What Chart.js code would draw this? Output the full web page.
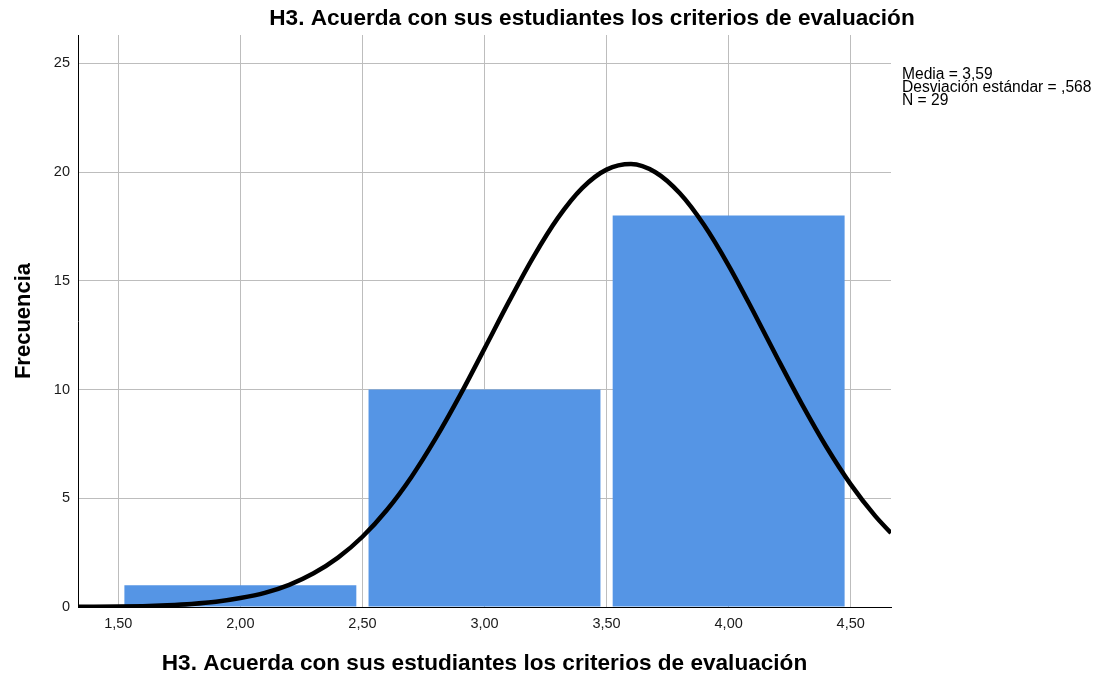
<!DOCTYPE html>
<html lang="es">
<head>
    <meta charset="UTF-8">
    <title>H3 histograma</title>
    <script src="https://cdn.jsdelivr.net/npm/chart.js"></script>
    <style>
        html, body { margin: 0; padding: 0; background: #ffffff; }
        #wrap { width: 1098px; height: 679px; }
    </style>
</head>
<body>
    <div id="wrap"><canvas id="histo"></canvas></div>

    <script>
        // Histograma: centros de intervalo y frecuencias
        const binCenters = [2, 3, 4];
        const frequencies = [1, 10, 18];

        // Marcas de los ejes
        const xTicks = [1.5, 2, 2.5, 3, 3.5, 4, 4.5];
        const yTicks = [0, 5, 10, 15, 20, 25];

        // Curva normal
        const curveX = [1.335, 1.4, 1.5, 1.6, 1.7, 1.8, 1.9, 2.0, 2.1, 2.2, 2.3, 2.4, 2.5, 2.6, 2.7, 2.8, 2.9,
                        3.0, 3.1, 3.2, 3.3, 3.4, 3.5, 3.6, 3.7, 3.8, 3.9, 4.0, 4.1, 4.2, 4.3, 4.4, 4.5, 4.6, 4.665];
        const curveY = [0.01, 0.01, 0.02, 0.04, 0.08, 0.14, 0.24, 0.41, 0.65, 1.02, 1.55, 2.27, 3.23, 4.46, 5.97, 7.75, 9.74,
                        11.88, 14.04, 16.09, 17.88, 19.26, 20.11, 20.37, 19.99, 19.02, 17.55, 15.70, 13.61, 11.44, 9.33, 7.37, 5.64, 4.19, 3.40];

        const chartTitle = "H3. Acuerda con sus estudiantes los criterios de evaluación";
        const statsLines = ["Media = 3,59", "Desviación estándar = ,568", "N = 29"];

        const fontFam = "'Liberation Sans', Arial, sans-serif";

        // título y estadísticos dibujados a mano
        const textPlugin = {
            id: "textos",
            afterDraw(chart) {
                const ctx = chart.ctx;
                ctx.save();
                ctx.fillStyle = "#000";
                ctx.font = "bold 22.6px " + fontFam;
                ctx.textAlign = "center";
                ctx.textBaseline = "alphabetic";
                ctx.fillText(chartTitle, 592, 25);

                ctx.font = "15.6px " + fontFam;
                ctx.textAlign = "left";
                statsLines.forEach((s, i) => ctx.fillText(s, 902, 78.5 + i * 13.3));
                ctx.restore();
            }
        };

        const ctx = document.getElementById("histo").getContext("2d");
        new Chart(ctx, {
            type: "bar",
            data: {
                datasets: [
                    {
                        type: "line",
                        data: curveX.map((x, i) => ({ x: x, y: curveY[i] })),
                        borderColor: "#000000",
                        borderWidth: 4.5,
                        pointRadius: 0,
                        tension: 0.4,
                        cubicInterpolationMode: "monotone",
                        order: 0
                    },
                    {
                        type: "bar",
                        data: binCenters.map((x, i) => ({ x: x, y: frequencies[i] })),
                        backgroundColor: "#5595e5",
                        borderWidth: 0,
                        // chart.js mide el hueco entre marcas (0,5), no entre barras
                        barPercentage: 1.9,
                        categoryPercentage: 1,
                        order: 1
                    }
                ]
            },
            options: {
                responsive: true,
                maintainAspectRatio: false,
                animation: false,
                layout: { padding: { top: 35, right: 207, left: 0, bottom: 0 } },
                plugins: {
                    legend: { display: false },
                    tooltip: { enabled: false }
                },
                scales: {
                    x: {
                        type: "linear",
                        min: 1.335,
                        max: 4.665,
                        offset: false,
                        afterBuildTicks: (scale) => { scale.ticks = xTicks.map(v => ({ value: v })); },
                        afterFit: (scale) => { scale.height = 72; },
                        grid: { color: "#bdbdbd", lineWidth: 1, drawTicks: false, offset: false },
                        border: { color: "#000000", width: 1 },
                        ticks: {
                            padding: 8,
                            color: "#1a1a1a",
                            font: { family: fontFam, size: 14.5 },
                            callback: (v) => v.toFixed(2).replace(".", ",")
                        },
                        title: {
                            display: true,
                            text: chartTitle,
                            color: "#000",
                            font: { family: fontFam, size: 22.6, weight: "bold" },
                            padding: { top: 4, bottom: 2 }
                        }
                    },
                    y: {
                        min: 0,
                        max: 26.3,
                        afterBuildTicks: (scale) => { scale.ticks = yTicks.map(v => ({ value: v })); },
                        afterFit: (scale) => { scale.width = 78; },
                        grid: { color: "#bdbdbd", lineWidth: 1, drawTicks: false },
                        border: { color: "#000000", width: 1 },
                        ticks: {
                            padding: 8,
                            color: "#1a1a1a",
                            font: { family: fontFam, size: 14.5 },
                            callback: (v) => String(v)
                        },
                        title: {
                            display: true,
                            text: "Frecuencia",
                            color: "#000",
                            font: { family: fontFam, size: 22, weight: "bold" },
                            padding: { top: 11, bottom: 0 }
                        }
                    }
                }
            },
            plugins: [textPlugin]
        });
    </script>
</body>
</html>
